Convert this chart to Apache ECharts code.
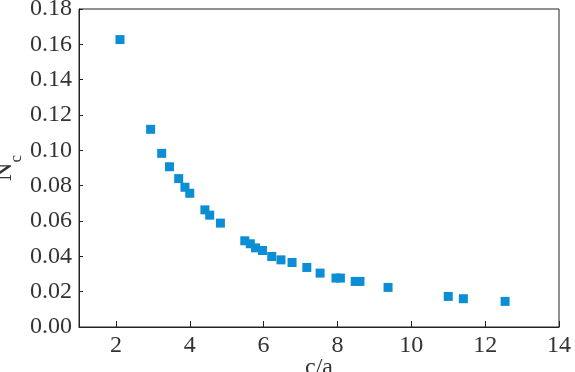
<!DOCTYPE html>
<html>
<head>
<meta charset="utf-8">
<script src="https://cdn.jsdelivr.net/npm/echarts@6/dist/echarts.min.js"></script>
<style>html,body{margin:0;padding:0;background:#fff}#c{width:575px;height:372px}</style>
</head>
<body>
<div id="c"></div>
<script>
const ratioCA = [2.11, 2.94, 3.24, 3.45, 3.70, 3.87, 4.00, 4.41, 4.54, 4.83, 5.49, 5.64, 5.78, 5.97, 6.22, 6.47, 6.77, 7.17, 7.53, 7.96, 8.08, 8.48, 8.61, 9.37, 11.00, 11.41, 12.54];
const Nc = [0.1627, 0.1119, 0.0983, 0.0907, 0.0840, 0.0791, 0.0757, 0.0663, 0.0633, 0.0588, 0.0488, 0.0471, 0.0448, 0.0433, 0.0399, 0.0380, 0.0365, 0.0337, 0.0305, 0.0277, 0.0277, 0.0258, 0.0258, 0.0224, 0.0173, 0.0160, 0.0145];
const xTicks = [2, 4, 6, 8, 10, 12, 14];
const yTicks = [0, 0.02, 0.04, 0.06, 0.08, 0.10, 0.12, 0.14, 0.16, 0.18];

const points = ratioCA.map((x, i) => [x, Nc[i]]);
const font = 'Liberation Serif, Times New Roman, serif';
const chart = echarts.init(document.getElementById('c'), null, {renderer: 'canvas'});
chart.setOption({
  animation: false,
  backgroundColor: '#fff',
  grid: {left: 79, right: 16, top: 9, bottom: 45, show: true, borderColor: '#222', borderWidth: 1, containLabel: false, outerBoundsMode: 'none'},
  xAxis: {
    type: 'value', min: 1, max: 14,
    name: 'c/a', nameLocation: 'middle', nameGap: 29, nameMoveOverlap: false,
    nameTextStyle: {fontFamily: font, fontSize: 24, color: '#333', verticalAlign: 'top'},
    axisLine: {show: true, lineStyle: {color: '#222', width: 1}},
    axisTick: {show: true, inside: true, length: 6, customValues: xTicks, lineStyle: {color: '#222'}},
    axisLabel: {customValues: xTicks, fontFamily: font, fontSize: 24, color: '#333', margin: 7},
    splitLine: {show: false}
  },
  yAxis: {
    type: 'value', min: 0, max: 0.18, interval: 0.02,
    name: '{n|N}{s|c}', nameLocation: 'middle', nameGap: 62, nameMoveOverlap: false,
    nameTextStyle: {rich: {n: {fontFamily: font, fontSize: 26, color: '#333'}, s: {fontFamily: font, fontSize: 17, color: '#333', verticalAlign: 'bottom', padding: [0,0,-8,0]}}},
    axisLine: {show: true, lineStyle: {color: '#222', width: 1}},
    axisTick: {show: true, inside: true, length: 4, lineStyle: {color: '#222'}},
    axisLabel: {fontFamily: font, fontSize: 24, color: '#333', margin: 7, formatter: v => v.toFixed(2)},
    splitLine: {show: false}
  },
  series: [{
    type: 'scatter',
    data: points,
    symbol: 'rect',
    symbolSize: 9,
    itemStyle: {color: '#0b8ed4', opacity: 1}
  }]
});
</script>
</body>
</html>
